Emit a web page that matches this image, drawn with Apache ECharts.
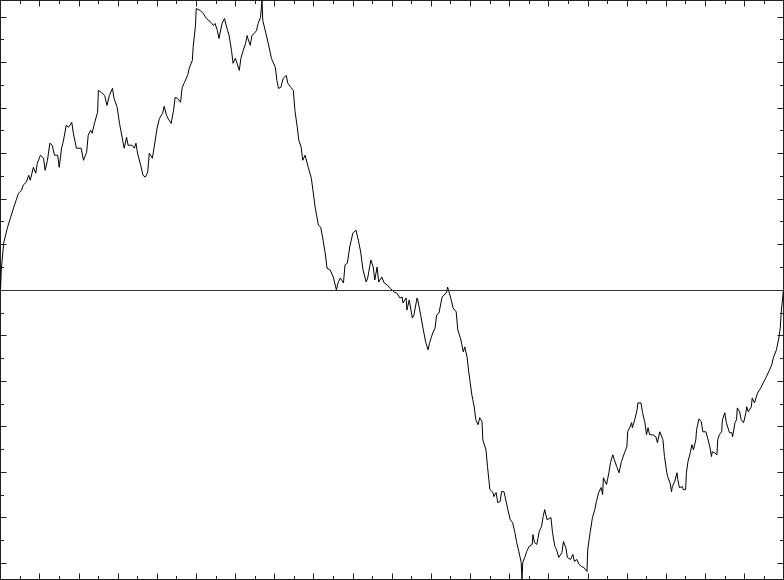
<!DOCTYPE html>
<html>
<head>
<meta charset="utf-8">
<script src="https://cdn.jsdelivr.net/npm/echarts@6.0.0/dist/echarts.min.js"></script>
<style>
  html, body { margin: 0; padding: 0; background: #fff; }
  #chart { width: 784px; height: 580px; }
</style>
</head>
<body>
<div id="chart"></div>
<script>
// path, [t, y] pairs, split by stretch
const riseToTop = [
  [0, 0], [.001, .088], [.004, .206], [.009, .276], [.013, .320], [.017, .364], [.020, .395],
  [.023, .425], [.027, .439], [.029, .461], [.033, .474], [.036, .504], [.038, .482], [.042, .539],
  [.045, .513], [.047, .557], [.051, .592], [.055, .579], [.057, .526], [.060, .570], [.063, .645],
  [.066, .636], [.069, .592], [.073, .592], [.075, .539], [.078, .623], [.080, .649], [.084, .724],
  [.087, .715], [.091, .737], [.093, .689], [.097, .623], [.099, .627], [.103, .623], [.106, .570],
  [.110, .605], [.112, .680], [.115, .702], [.117, .689], [.120, .732], [.124, .781], [.125, .877],
  [.129, .868], [.133, .855], [.136, .811], [.139, .855], [.143, .886], [.145, .842], [.149, .803],
  [.152, .732], [.156, .658], [.158, .623], [.161, .671], [.163, .636], [.168, .636], [.171, .623],
  [.173, .645], [.175, .601], [.179, .548], [.182, .504], [.185, .496], [.188, .518], [.190, .601],
  [.194, .579], [.196, .623], [.200, .711], [.203, .754], [.207, .776], [.209, .807], [.212, .768],
  [.214, .754], [.218, .732], [.221, .789], [.223, .846], [.226, .842], [.230, .825], [.232, .890],
  [.235, .912], [.239, .943], [.241, .974], [.245, 1.009], [.246, 1.066], [.249, 1.162], [.250, 1.237]
]
const topPlateau = [
  [.251, 1.241], [.255, 1.228], [.259, 1.215], [.263, 1.193], [.265, 1.197], [.269, 1.175],
  [.272, 1.162], [.274, 1.171], [.277, 1.140], [.279, 1.105], [.283, 1.171], [.286, 1.193],
  [.290, 1.140], [.292, 1.118], [.295, 1.053], [.297, .996], [.300, 1.018], [.302, 1.018],
  [.305, .965], [.307, 1.018], [.310, 1.053], [.313, 1.083], [.315, 1.118], [.316, 1.105],
  [.319, 1.075], [.321, 1.118], [.324, 1.127], [.327, 1.140], [.329, 1.171], [.332, 1.197],
  [.334, 1.272], [.335, 1.184], [.339, 1.127], [.342, 1.083], [.346, 1.018], [.348, 1.018],
  [.351, .978], [.353, .921], [.355, .886], [.358, .890], [.361, .930], [.365, .943],
  [.367, .908], [.371, .890], [.374, .877]
]
const fallToZero = [
  [.376, .789], [.379, .715], [.381, .658], [.384, .627], [.386, .570], [.389, .592],
  [.393, .539], [.397, .491], [.399, .439], [.402, .360], [.406, .285], [.409, .276],
  [.412, .219], [.415, .154], [.417, .096], [.421, .088], [.423, .096], [.425, .057],
  [.429, 0], [.431, .031], [.434, .053], [.438, .031], [.440, .110], [.443, .118],
  [.446, .189], [.450, .250], [.454, .263], [.457, .219], [.460, .167], [.463, .088],
  [.467, .035], [.469, .053], [.473, .132], [.476, .101], [.478, .044], [.481, .101],
  [.483, .035], [.487, .057], [.490, .031], [.494, .022], [.497, .009], [.503, -.009],
  [.506, -.013], [.510, -.035], [.513, -.031], [.514, -.057], [.518, -.035], [.519, -.088],
  [.522, -.044], [.526, -.123], [.528, -.110], [.532, -.035], [.533, -.044], [.537, -.118],
  [.540, -.175], [.543, -.228], [.546, -.263], [.548, -.232], [.552, -.189], [.555, -.167],
  [.557, -.110], [.560, -.101], [.564, -.031], [.566, -.035], [.570, -.009], [.571, .013]
]
const fallToBottom = [
  [.575, -.035], [.578, -.079], [.582, -.096], [.584, -.175], [.588, -.219], [.591, -.272],
  [.593, -.250], [.596, -.298], [.598, -.360], [.602, -.461], [.605, -.513], [.607, -.570],
  [.610, -.592], [.612, -.561], [.615, -.579], [.616, -.658], [.620, -.702], [.622, -.776],
  [.625, -.877], [.629, -.890], [.630, -.908], [.633, -.890], [.635, -.934], [.638, -.930],
  [.640, -.886], [.643, -.886], [.645, -.890], [.648, -.965], [.651, -1.009], [.654, -1.022],
  [.657, -1.066], [.659, -1.105], [.662, -1.149], [.665, -1.197], [.666, -1.272], [.667, -1.197],
  [.670, -1.171], [.672, -1.149], [.675, -1.127], [.679, -1.118], [.680, -1.075], [.682, -1.110],
  [.685, -1.118], [.688, -1.061], [.691, -1.039], [.693, -.996], [.695, -.965], [.698, -1.009],
  [.700, -1.009], [.703, -1.000], [.705, -1.066], [.708, -1.127], [.710, -1.140], [.713, -1.175],
  [.717, -1.154], [.719, -1.105], [.722, -1.132], [.724, -1.175], [.728, -1.184], [.731, -1.162],
  [.733, -1.193], [.736, -1.184], [.739, -1.206], [.742, -1.215], [.745, -1.219], [.749, -1.237]
]
const climbBack = [
  [.750, -1.140], [.753, -1.066], [.756, -1.000], [.759, -.965], [.761, -.930], [.764, -.890],
  [.767, -.868], [.769, -.899], [.770, -.825], [.774, -.855], [.777, -.803], [.779, -.759],
  [.782, -.724], [.784, -.746], [.787, -.776], [.790, -.803], [.793, -.754], [.795, -.759],
  [.797, -.715], [.800, -.689], [.801, -.623], [.804, -.601], [.806, -.583], [.807, -.605],
  [.810, -.570], [.813, -.526], [.814, -.496], [.816, -.504], [.818, -.496], [.820, -.539],
  [.823, -.583], [.825, -.636], [.827, -.605], [.829, -.636], [.833, -.636], [.837, -.645],
  [.839, -.671], [.842, -.623], [.846, -.658], [.848, -.732], [.851, -.803], [.852, -.820],
  [.855, -.846], [.857, -.886], [.858, -.864], [.861, -.842], [.864, -.803], [.865, -.833],
  [.867, -.868], [.871, -.864], [.872, -.877], [.875, -.877], [.876, -.803], [.878, -.754],
  [.881, -.715], [.883, -.680], [.885, -.702], [.888, -.658], [.889, -.614], [.892, -.566],
  [.895, -.579], [.897, -.623], [.901, -.623], [.903, -.627], [.906, -.689], [.908, -.732],
  [.909, -.711], [.912, -.715], [.915, -.724], [.916, -.658], [.918, -.636], [.921, -.623],
  [.922, -.570], [.925, -.539], [.927, -.583], [.929, -.583], [.931, -.627], [.934, -.627],
  [.935, -.645], [.938, -.583], [.940, -.570], [.941, -.518], [.944, -.535], [.946, -.570],
  [.949, -.583], [.952, -.539], [.953, -.513], [.955, -.535], [.959, -.513], [.960, -.474],
  [.963, -.496], [.966, -.461], [.967, -.452], [.971, -.430], [.973, -.425], [.976, -.395],
  [.978, -.382], [.981, -.360], [.985, -.329], [.987, -.298], [.991, -.263], [.994, -.211],
  [.996, -.162], [.997, -.101], [.999, -.031], [1, 0]
]
const yLimit = 1.272   // curve touches both edges
const tickLimit = 1.4  // tick axis reaches past the frame so ticks start on 0

const path = [].concat(riseToTop, topPlateau, fallToZero, fallToBottom, climbBack)

const frameColor = '#222'
const px = 0.5
const plotH = 580 - 2 * px
const overhang = plotH * (tickLimit / yLimit - 1) / 2

function xFrame(pos) {
  return {
    type: 'value', gridIndex: 0, position: pos, min: 0, max: 1, interval: 0.05,
    axisLine: { show: true, onZero: false, lineStyle: { color: frameColor, width: 1 } },
    axisTick: { show: true, inside: true, length: 6, lineStyle: { color: frameColor } },
    minorTick: { show: true, splitNumber: 2, length: 3.5, lineStyle: { color: frameColor } },
    axisLabel: { show: false }, splitLine: { show: false }
  }
}
function yFrame(pos) {
  return {
    type: 'value', gridIndex: 0, position: pos, min: -yLimit, max: yLimit,
    axisLine: { show: true, onZero: false, lineStyle: { color: frameColor, width: 1 } },
    axisTick: { show: false }, axisLabel: { show: false }, splitLine: { show: false }
  }
}
function yTicks(pos) {
  return {
    type: 'value', gridIndex: 1, position: pos, min: -tickLimit, max: tickLimit, interval: 0.2,
    axisLine: { show: false },
    axisTick: { show: true, inside: true, length: 6, lineStyle: { color: frameColor } },
    minorTick: { show: true, splitNumber: 2, length: 3.5, lineStyle: { color: frameColor } },
    axisLabel: { show: false }, splitLine: { show: false }
  }
}

const chart = echarts.init(document.getElementById('chart'))
chart.setOption({
  animation: false,
  backgroundColor: '#fff',
  grid: [
    { left: px, right: px, top: px, bottom: px, outerBoundsMode: 'none' },
    { left: px, width: 784 - 2 * px, top: px - overhang, height: plotH + 2 * overhang, outerBoundsMode: 'none' }
  ],
  xAxis: [
    xFrame('bottom'),
    xFrame('top'),
    { type: 'value', gridIndex: 1, min: 0, max: 1, show: false }
  ],
  yAxis: [yFrame('left'), yFrame('right'), yTicks('left'), yTicks('right')],
  series: [
    {
      type: 'line',
      xAxisIndex: 0,
      yAxisIndex: 0,
      data: path,
      showSymbol: false,
      clip: false,
      lineStyle: { color: '#000', width: 1 },
      markLine: {
        silent: true,
        symbol: 'none',
        label: { show: false },
        lineStyle: { color: '#333', width: 1, type: 'solid' },
        data: [{ yAxis: 0 }]
      }
    }
  ]
})
</script>
</body>
</html>
